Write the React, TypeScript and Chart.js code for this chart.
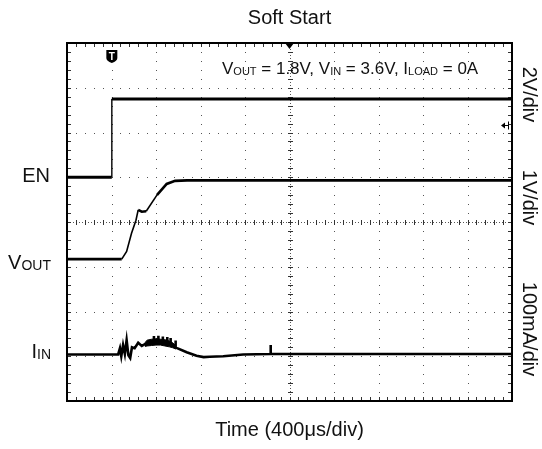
import React, { useEffect, useRef } from "react";
import { Chart, registerables } from "chart.js";

Chart.register(...registerables);

const FONT = "'Liberation Sans', Arial, Helvetica, sans-serif";

const TITLE = "Soft Start";
const X_TITLE = "Time (400μs/div)";

// Screen: 10 horizontal divisions x 8 vertical divisions
const US_PER_DIV = 400;
const X_DIVS = 10;
const Y_DIVS = 8;

// Channel settings (volts or mA per division, ground level in divisions from bottom)
const EN_PER_DIV = 2;
const VOUT_PER_DIV = 1;
const IIN_PER_DIV = 100;
const EN_ZERO_DIV = 5.0;
const VOUT_ZERO_DIV = 3.17;
const IIN_ZERO_DIV = 1.04;

const CHANNEL_LABELS = ["EN", "VOUT", "IIN"];
const SCALE_LABELS = ["2V/div", "1V/div", "100mA/div"];

// EN (V)
const EN_TIME_US = [0, 403, 403, 4000];
const EN_VOLTS = [0, 0, 3.5, 3.5];

// VOUT (V)
const VOUT_TIME_US = [0, 492, 536, 580, 620, 640, 672, 712, 808, 896, 972, 1080, 4000];
const VOUT_VOLTS = [0, 0, 0.17, 0.58, 0.87, 1.1, 1.06, 1.07, 1.43, 1.68, 1.75, 1.76, 1.76];

// IIN (mA) – centre of trace, with spikes
const IIN_TIME_US = [
  0, 460, 476, 488, 504, 520, 536, 552, 568, 584, 608, 640, 672, 700,
  740, 780, 781, 782, 820, 821, 822, 860, 861, 862, 900, 901, 902,
  930, 931, 932, 960, 975, 976, 977, 990, 1076, 1164, 1228, 1284, 1404,
  1584, 1828, 1830, 1832, 4000,
];
const IIN_MA = [
  0, 0, 14, -4, 21, 1, 32, -2, -8, 16, 14, 26, 19, 23,
  26, 27, 41, 27, 28, 42, 28, 27, 40, 27, 26, 39, 26,
  23, 37, 23, 19, 16, 31, 16, 14, 5, -3, -6, -5, -4,
  0, 1, 21, 1, 1,
];

// IIN noise band envelope during the current bump (mA)
const IIN_BAND_TIME_US = [700, 720, 760, 800, 840, 880, 920, 950, 980];
const IIN_BAND_HIGH_MA = [26, 32, 34, 35, 34, 33, 30, 26, 19];
const IIN_BAND_LOW_MA = [18, 19, 20, 21, 21, 19, 17, 15, 12];

const TRIGGER_TIME_US = 403;
const TRIGGER_LEVEL_V = 2.35;

const toPoints = (t: number[], v: number[], perDiv: number, zero: number) =>
  t.map((tt, i) => ({ x: tt, y: zero + v[i] / perDiv }));

const scopePlugin = {
  id: "scope",
  beforeDatasetsDraw(chart: any) {
    const { ctx, chartArea: a, scales } = chart;
    const xs = scales.x;
    const ys = scales.y;
    const px = (d: number) => Math.round(xs.getPixelForValue(d * US_PER_DIV));
    const py = (d: number) => Math.round(ys.getPixelForValue(d));
    ctx.save();
    ctx.fillStyle = "#555";
    for (let i = 1; i < X_DIVS; i++) {
      if (i === X_DIVS / 2) continue;
      const x = px(i);
      for (let j = 1; j < Y_DIVS * 5; j++) ctx.fillRect(x, py(j * 0.2), 1, 1);
    }
    for (let j = 1; j < Y_DIVS; j++) {
      if (j === Y_DIVS / 2) continue;
      const y = py(j);
      for (let i = 1; i < X_DIVS * 5; i++) ctx.fillRect(px(i * 0.2), y, 1, 1);
    }
    const cx = px(X_DIVS / 2);
    const cy = py(Y_DIVS / 2);
    for (let y = a.top; y < a.bottom; y += 3) ctx.fillRect(cx, Math.round(y), 1, 1);
    for (let x = a.left; x < a.right; x += 3) ctx.fillRect(Math.round(x), cy, 1, 1);
    ctx.fillStyle = "#333";
    for (let j = 1; j < Y_DIVS * 5; j++) ctx.fillRect(cx - 2, py(j * 0.2), 5, 1);
    for (let i = 1; i < X_DIVS * 5; i++) ctx.fillRect(px(i * 0.2), cy - 2, 1, 5);
    for (let i = 1; i < X_DIVS * 5; i++) {
      const x = px(i * 0.2);
      ctx.fillRect(x, Math.round(a.top) + 1, 1, 3);
      ctx.fillRect(x, Math.round(a.bottom) - 4, 1, 3);
    }
    for (let j = 1; j < Y_DIVS * 5; j++) {
      const y = py(j * 0.2);
      ctx.fillRect(Math.round(a.left) + 1, y, 3, 1);
      ctx.fillRect(Math.round(a.right) - 4, y, 3, 1);
    }
    ctx.restore();
  },
  afterDraw(chart: any) {
    const { ctx, chartArea: a, scales } = chart;
    const xs = scales.x;
    const ys = scales.y;
    ctx.save();
    ctx.strokeStyle = "#000";
    ctx.lineWidth = 2;
    ctx.strokeRect(a.left, a.top, a.right - a.left, a.bottom - a.top);

    const mx = xs.getPixelForValue((X_DIVS / 2) * US_PER_DIV);
    ctx.fillStyle = "#000";
    ctx.beginPath();
    ctx.moveTo(mx - 4.5, a.top);
    ctx.lineTo(mx + 4.5, a.top);
    ctx.lineTo(mx, a.top + 6);
    ctx.closePath();
    ctx.fill();

    const tx = xs.getPixelForValue(TRIGGER_TIME_US);
    const ty = a.top + 7;
    ctx.beginPath();
    ctx.moveTo(tx - 5.5, ty);
    ctx.lineTo(tx + 5.5, ty);
    ctx.lineTo(tx + 5.5, ty + 8);
    ctx.quadraticCurveTo(tx + 5.5, ty + 11, tx, ty + 13);
    ctx.quadraticCurveTo(tx - 5.5, ty + 11, tx - 5.5, ty + 8);
    ctx.closePath();
    ctx.fill();
    ctx.fillStyle = "#fff";
    ctx.font = `bold 10px ${FONT}`;
    ctx.textAlign = "center";
    ctx.textBaseline = "alphabetic";
    ctx.fillText("T", tx, ty + 10);

    const ly = Math.round(ys.getPixelForValue(EN_ZERO_DIV + TRIGGER_LEVEL_V / EN_PER_DIV)) + 0.5;
    const ax = a.right - 4;
    ctx.fillStyle = "#000";
    ctx.strokeStyle = "#000";
    ctx.lineWidth = 1;
    ctx.beginPath();
    ctx.moveTo(ax - 7, ly);
    ctx.lineTo(ax - 3, ly - 3);
    ctx.lineTo(ax - 3, ly + 3);
    ctx.closePath();
    ctx.fill();
    ctx.beginPath();
    ctx.moveTo(ax - 3, ly);
    ctx.lineTo(ax + 1, ly);
    ctx.moveTo(ax + 0.5, ly - 4);
    ctx.lineTo(ax + 0.5, ly + 4);
    ctx.stroke();

    const drawRich = (parts: [string, boolean][], x: number, y: number, main: number, sub: number, align: "left" | "right") => {
      ctx.textBaseline = "alphabetic";
      ctx.textAlign = "left";
      const widths = parts.map(([t, s]) => {
        ctx.font = `${s ? sub : main}px ${FONT}`;
        return ctx.measureText(t).width;
      });
      const total = widths.reduce((p, c) => p + c, 0);
      let cx = align === "left" ? x : x - total;
      parts.forEach(([t, s], i) => {
        ctx.font = `${s ? sub : main}px ${FONT}`;
        ctx.fillText(t, cx, s ? y + 1 : y);
        cx += widths[i];
      });
    };

    ctx.fillStyle = "#111";
    const enY = ys.getPixelForValue(EN_ZERO_DIV);
    const voY = ys.getPixelForValue(VOUT_ZERO_DIV);
    const iiY = ys.getPixelForValue(IIN_ZERO_DIV);
    drawRich([[CHANNEL_LABELS[0], false]], 50, enY + 5, 20, 14, "right");
    drawRich([[CHANNEL_LABELS[1].slice(0, 1), false], [CHANNEL_LABELS[1].slice(1), true]], 51, voY + 10, 20, 14, "right");
    drawRich([[CHANNEL_LABELS[2].slice(0, 1), false], [CHANNEL_LABELS[2].slice(1), true]], 51, iiY + 3.5, 20, 14, "right");

    drawRich(
      [
        ["V", false], ["OUT", true], [" = 1.8V, V", false], ["IN", true],
        [" = 3.6V, I", false], ["LOAD", true], [" = 0A", false],
      ],
      222, 74, 17, 11, "left"
    );

    const rightX = 529;
    const centers = [94.5, 197.5, 329];
    ctx.font = `20px ${FONT}`;
    ctx.textAlign = "center";
    ctx.textBaseline = "middle";
    SCALE_LABELS.forEach((s, i) => {
      ctx.save();
      ctx.translate(rightX, centers[i]);
      ctx.rotate(Math.PI / 2);
      ctx.fillText(s, 0, 0);
      ctx.restore();
    });
    ctx.restore();
  },
};

// thinner stroke on steep (fast-moving) parts of a trace, as on a scope
const steepWidth = (flat: number, steep: number) => (c: any) => {
  const dx = Math.abs(c.p1.x - c.p0.x);
  const dy = Math.abs(c.p1.y - c.p0.y);
  return dy > dx * 1.5 ? steep : flat;
};

export default function App() {
  const ref = useRef<HTMLCanvasElement | null>(null);
  useEffect(() => {
    if (!ref.current) return;
    const lineStyle = {
      borderColor: "#000",
      borderWidth: 3,
      pointRadius: 0,
      tension: 0,
      fill: false,
    };
    const chart = new Chart(ref.current, {
      type: "line",
      data: {
        datasets: [
          {
            label: "EN",
            data: toPoints(EN_TIME_US, EN_VOLTS, EN_PER_DIV, EN_ZERO_DIV),
            ...lineStyle,
            segment: { borderWidth: steepWidth(3, 1.4) },
          },
          {
            label: "VOUT",
            data: toPoints(VOUT_TIME_US, VOUT_VOLTS, VOUT_PER_DIV, VOUT_ZERO_DIV),
            ...lineStyle,
            borderWidth: 2.6,
            segment: { borderWidth: steepWidth(2.6, 1.6) },
          },
          {
            label: "IIN band high",
            data: toPoints(IIN_BAND_TIME_US, IIN_BAND_HIGH_MA, IIN_PER_DIV, IIN_ZERO_DIV),
            ...lineStyle,
            borderWidth: 1,
            fill: "+1",
            backgroundColor: "#000",
          },
          {
            label: "IIN band low",
            data: toPoints(IIN_BAND_TIME_US, IIN_BAND_LOW_MA, IIN_PER_DIV, IIN_ZERO_DIV),
            ...lineStyle,
            borderWidth: 1,
          },
          { label: "IIN", data: toPoints(IIN_TIME_US, IIN_MA, IIN_PER_DIV, IIN_ZERO_DIV), ...lineStyle, borderWidth: 2.6 },
        ],
      },
      options: {
        responsive: false,
        animation: false,
        parsing: false,
        layout: { padding: { left: 67, right: 30, top: 0, bottom: 0 } },
        plugins: {
          legend: { display: false },
          tooltip: { enabled: false },
          title: {
            display: true,
            text: TITLE,
            color: "#111",
            font: { family: FONT, size: 20, weight: "normal", lineHeight: 1.2 },
            padding: { top: 6, bottom: 13 },
          },
        },
        scales: {
          x: {
            type: "linear",
            min: 0,
            max: X_DIVS * US_PER_DIV,
            ticks: { display: false },
            grid: { display: false, drawTicks: false },
            border: { display: false },
            title: {
              display: true,
              text: X_TITLE,
              color: "#111",
              font: { family: FONT, size: 20, weight: "normal", lineHeight: 1.2 },
              padding: { top: 17, bottom: 7 },
            },
          },
          y: {
            type: "linear",
            min: 0,
            max: Y_DIVS,
            display: false,
          },
        },
      },
      plugins: [scopePlugin],
    } as any);
    return () => chart.destroy();
  }, []);
  return (
    <div style={{ position: "absolute", left: 0, top: 0, width: 542, height: 449, background: "#fff" }}>
      <canvas ref={ref} width={542} height={449} style={{ display: "block" }} />
    </div>
  );
}
